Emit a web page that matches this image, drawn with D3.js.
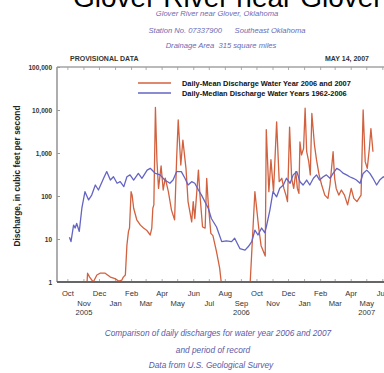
<!DOCTYPE html>
<html><head><meta charset="utf-8">
<script src="https://cdn.jsdelivr.net/npm/d3@7"></script>
<style>
html,body{margin:0;padding:0;background:#fff;overflow:hidden;}
svg{display:block;font-family:"Liberation Sans",Arial,sans-serif;}
</style></head>
<body>
<svg id="c" width="384" height="373"></svg>
<script>
// ---- data ----
const waterYearStart = "2005-10-01";
// days since 2005-10-01 and daily-mean discharge (cfs), WY 2006-2007
const meanDays = [0,37,38,42,49,56,62,72,82,91,98,104,107,111,114,117,119,122,124,127,133,140,146,152,159,162,164,166,169,172,175,180,184,188,194,200,206,210,213,218,222,228,232,239,242,245,252,255,260,265,268,271,276,280,287,293,296,350,352,361,368,373,381,383,388,392,397,403,408,413,417,421,424,428,432,436,440,443,446,448,451,455,458,461,465,468,471,476,480,485,490,496,502,506,512,515,518,523,528,534,540,547,552,558,566,570,574,578,582,585,589];
const meanValues = [1,1,1.6,1.3,1.0,1.45,1.6,1.6,1.3,1.2,1.05,1.1,1.3,1.45,7.3,15,18,126,105,52,28,21,18,16,12.4,18,52,62,11500,630,150,500,138,260,126,47,28,760,5900,525,2000,440,74,25,74,30,400,105,19,18,258,68,13.5,12,5,2.1,1,1,1,126,20,7,4,3500,126,700,126,5300,215,258,150,105,74,4000,258,150,370,150,115,1800,900,1270,11000,1070,630,310,8300,1550,690,310,180,105,88,180,1070,258,150,105,138,105,62,150,88,74,105,10000,630,440,1270,3700,1070];
// days since 2005-10-01 and daily-median discharge (cfs), 1962-2006
const medianDays = [3,6,11,14,17,22,27,33,40,46,53,59,69,75,82,88,95,101,108,114,120,127,136,143,153,159,169,178,187,197,203,210,219,226,232,239,245,252,258,271,277,287,297,306,316,322,332,342,348,355,361,367,374,380,383,390,396,403,409,416,422,429,435,442,448,454,461,467,474,480,486,493,499,506,512,519,525,532,538,544,551,557,564,570,577,583,589,596,602,609,615];
const medianValues = [11,8.7,21,18,23,15,52,126,81,105,180,138,258,370,235,280,198,215,165,280,310,235,335,258,400,440,335,310,235,198,235,370,370,258,180,215,198,138,105,52,30,19,8.7,9,8.7,10.4,6,5.5,6.6,8.7,16,12.4,18,14,19,47,126,96,151,180,258,198,310,370,215,180,235,180,258,310,235,280,310,258,335,440,400,335,310,280,258,235,198,335,400,335,258,180,235,280,250];
const yTickValues = [1,10,100,1000,10000,100000];
const monthNames = ["Oct","Nov","Dec","Jan","Feb","Mar","Apr","May","Jun","Jul","Aug","Sep","Oct","Nov","Dec","Jan","Feb","Mar","Apr","May","Jun","Jul","Aug","Sep"];
const yearLabels = [{month:"2005-11-01",label:"2005"},{month:"2006-09-01",label:"2006"},{month:"2007-05-01",label:"2007"}];
const legendLabels = ["Daily-Mean Discharge Water Year 2006 and 2007","Daily-Median Discharge Water Years 1962-2006"];
const titleText = "Glover River near Glover";
const subtitleLines = ["Glover River near Glover, Oklahoma","Station No. 07337900      Southeast Oklahoma","Drainage Area  315 square miles"];
const captionLines = ["Comparison of daily discharges for water year 2006 and 2007","and period of record","Data from U.S. Geological Survey"];

// ---- setup ----
const svg = d3.select("#c");
const parse = d3.utcParse("%Y-%m-%d");
const wy0 = parse(waterYearStart);
const toDate = n => d3.utcDay.offset(wy0, n);
const RED = "#d2613f", BLUE = "#6464c4";

const d0 = parse("2005-09-10"), d1 = parse("2007-10-10");
const pxPerDay = 0.518;
const pLeft = 57, pTop = 67, pBottom = 282;
const x = d3.scaleUtc().domain([d0,d1]).range([pLeft, pLeft + d3.utcDay.count(d0,d1)*pxPerDay]);
const y = d3.scaleLog().domain([1,100000]).range([pBottom, pTop]).clamp(true);

// title
svg.append("text").attr("x",73).attr("y",7).attr("font-size",28).attr("fill","#000").text(titleText);
const subY = [16,33,48], subX = [217,227,221];
subtitleLines.forEach((t,i)=>svg.append("text").attr("x",subX[i]).attr("y",subY[i]).attr("text-anchor","middle")
  .attr("font-size",7.6).attr("font-style","italic").attr("fill","#6a6ab4").style("white-space","pre").text(t));
svg.append("text").attr("x",70).attr("y",61).attr("font-size",7).attr("font-weight","bold").attr("fill","#333").text("PROVISIONAL DATA");
svg.append("text").attr("x",369).attr("y",61).attr("text-anchor","end").attr("font-size",7).attr("font-weight","bold").attr("fill","#333").text("MAY 14, 2007");

// frame
const xr = x.range();
svg.append("line").attr("x1",pLeft).attr("x2",xr[1]).attr("y1",pTop).attr("y2",pTop).attr("stroke","#777").attr("stroke-width",1.2);
svg.append("line").attr("x1",pLeft).attr("x2",pLeft).attr("y1",pTop).attr("y2",pBottom).attr("stroke","#777").attr("stroke-width",1.2);

// month ticks
const months = d3.utcMonth.range(parse("2005-10-01"), parse("2007-10-01"));
svg.append("g").selectAll("line").data(months).join("line")
  .attr("x1",d=>x(d)).attr("x2",d=>x(d)).attr("y1",pTop).attr("y2",pTop+3).attr("stroke","#999").attr("stroke-width",0.8);
svg.append("g").selectAll("line").data(months).join("line")
  .attr("x1",d=>x(d)).attr("x2",d=>x(d)).attr("y1",pBottom).attr("y2",pBottom-3).attr("stroke","#999").attr("stroke-width",0.8);

// y axis
const yAxis = d3.axisLeft(y).tickValues(yTickValues).tickFormat(d3.format(",")).tickSize(-3).tickPadding(5);
const ga = svg.append("g").attr("transform",`translate(${pLeft},0)`).call(yAxis);
ga.select(".domain").remove();
ga.selectAll(".tick line").attr("stroke","#999");
ga.selectAll(".tick text").attr("font-size",6.5).attr("font-weight","bold").attr("fill","#333")
  .attr("font-family","Liberation Sans, Arial, sans-serif");

svg.append("text").attr("transform","translate(20,176) rotate(-90)").attr("text-anchor","middle")
  .attr("font-size",8.4).attr("font-weight","bold").attr("fill","#222").text("Discharge, in cubic feet per second");

// x labels
svg.append("g").selectAll("text").data(months).join("text")
  .attr("x",d=>x(d)).attr("y",(d,i)=> i%2===0 ? 296 : 306).attr("text-anchor","middle")
  .attr("font-size",7.6).attr("fill","#333").text((d,i)=>monthNames[i]);
svg.append("g").selectAll("text").data(yearLabels).join("text")
  .attr("x",d=>x(parse(d.month))).attr("y",315).attr("text-anchor","middle")
  .attr("font-size",7.6).attr("fill","#333").text(d=>d.label);

// lines
const clipId = "plotclip";
svg.append("clipPath").attr("id",clipId).append("rect").attr("x",pLeft).attr("y",pTop).attr("width",xr[1]-pLeft).attr("height",pBottom-pTop);
const line = d3.line().x(d=>x(d[0])).y(d=>y(d[1]));
const redData = meanDays.map((d,i)=>[toDate(d), meanValues[i]]);
const blueData = medianDays.map((d,i)=>[toDate(d), medianValues[i]]);
const gl = svg.append("g").attr("clip-path",`url(#${clipId})`);
gl.append("path").datum(redData).attr("d",line).attr("fill","none").attr("stroke",RED).attr("stroke-width",1.3).attr("stroke-linejoin","round");
gl.append("path").datum(blueData).attr("d",line).attr("fill","none").attr("stroke",BLUE).attr("stroke-width",1.3).attr("stroke-linejoin","round");

// bottom axis line
svg.append("line").attr("x1",pLeft).attr("x2",xr[1]).attr("y1",pBottom).attr("y2",pBottom).attr("stroke","#666").attr("stroke-width",2);

// legend
const lg = svg.append("g");
[RED,BLUE].forEach((c,i)=>{
  lg.append("line").attr("x1",138).attr("x2",171).attr("y1",83+10*i).attr("y2",83+10*i).attr("stroke",c).attr("stroke-width",1.4);
  lg.append("text").attr("x",182).attr("y",86+10*i).attr("font-size",7.4).attr("font-weight","bold").attr("fill","#111").text(legendLabels[i]);
});

// captions
const capY=[336,353,368], capX=[218,213,211];
captionLines.forEach((t,i)=>svg.append("text").attr("x",capX[i]).attr("y",capY[i]).attr("text-anchor","middle")
  .attr("font-size",8.3).attr("font-style","italic").attr("fill","#5a5aa8").text(t));
</script>
</body></html>
